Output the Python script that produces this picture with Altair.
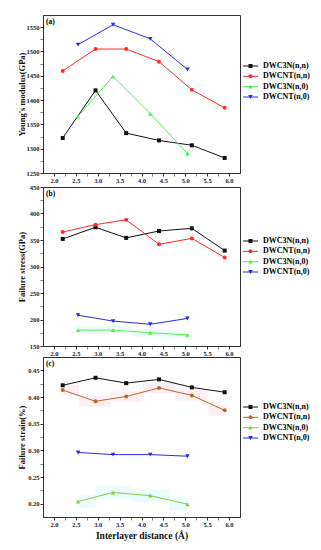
import altair as alt
import pandas as pd

FONT = "Liberation Serif"

series = ["DWC3N(n,n)", "DWCNT(n,n)", "DWC3N(n,0)", "DWCNT(n,0)"]
x_nn = [2.2, 2.95, 3.65, 4.4, 5.15, 5.9]
x_n0 = [2.55, 3.35, 4.2, 5.05]

# (a) Young's modulus (GPa)
young_c3n_nn = [1322, 1420, 1332, 1317, 1307, 1281]
young_cnt_nn = [1460, 1505, 1505, 1479, 1421, 1384]
young_c3n_n0 = [1366, 1449, 1372, 1290]
young_cnt_n0 = [1514, 1555, 1526, 1463]

# (b) Failure stress (GPa)
stress_c3n_nn = [352, 374, 354, 367, 372, 330]
stress_cnt_nn = [365, 379, 388, 342, 353, 317]
stress_c3n_n0 = [180, 180, 175, 171]
stress_cnt_n0 = [208, 197, 191, 202]

# (c) Failure strain (%)
strain_c3n_nn = [0.422, 0.436, 0.426, 0.433, 0.418, 0.409]
strain_cnt_nn = [0.413, 0.392, 0.401, 0.417, 0.403, 0.375]
strain_c3n_n0 = [0.204, 0.221, 0.215, 0.199]
strain_cnt_n0 = [0.296, 0.292, 0.292, 0.289]

# faint bands (half widths) seen behind some curves
band_b_c3n_n0 = 7
band_c_cnt_nn = 0.010
band_c_c3n_n0 = 0.012

x_ticks = [2.0, 2.25, 2.5, 2.75, 3.0, 3.25, 3.5, 3.75, 4.0, 4.25, 4.5,
           4.75, 5.0, 5.25, 5.5, 5.75, 6.0]
y_ticks_a = [1250, 1275, 1300, 1325, 1350, 1375, 1400, 1425, 1450, 1475, 1500,
             1525, 1550]
y_ticks_b = [150, 175, 200, 225, 250, 275, 300, 325, 350, 375, 400, 425, 450]
y_ticks_c = [0.2, 0.225, 0.25, 0.275, 0.3, 0.325, 0.35, 0.375, 0.4,
             0.425, 0.45]

marker_shapes = ["square", "circle", "triangle-up", "triangle-down"]


def major_test(step):
    return f"abs(datum.value/{step} - round(datum.value/{step})) < 0.001"


def marker_size(shp):
    return 16 if shp in ("square", "circle") else 20


def panel(label, vals, ydomain, yticks, ystep, yfmt, ytitle, colors, bands,
          legend_top, height, show_xtitle):
    rows = []
    for s, xs, ys in zip(series, [x_nn, x_nn, x_n0, x_n0], vals):
        for xv, yv in zip(xs, ys):
            rows.append({"x": xv, "y": yv, "series": s})
    df = pd.DataFrame(rows)

    xscale = alt.Scale(domain=[1.75, 6.25], nice=False, zero=False)
    yscale = alt.Scale(domain=ydomain, nice=False, zero=False)
    cscale = alt.Scale(domain=series, range=colors)

    x_axis = alt.Axis(
        values=x_ticks,
        labelExpr=f"({major_test(0.5)}) ? format(datum.value, '.1f') : ''",
        tickSize=3,
        tickOpacity={"condition": {"test": major_test(0.5), "value": 1}, "value": 0.6},
        labelOverlap=False,
        grid=False,
        title="Interlayer distance (Å)" if show_xtitle else None,
        titleFontSize=9.5,
        titlePadding=3,
    )
    y_axis = alt.Axis(
        values=yticks,
        labelExpr=f"({major_test(ystep)}) ? format(datum.value, '{yfmt}') : ''",
        tickSize=3,
        tickOpacity={"condition": {"test": major_test(ystep), "value": 1}, "value": 0.6},
        labelOverlap=False,
        grid=False,
        title=ytitle,
        titleFontSize=8.5,
        titlePadding=3,
        minExtent=14,
        maxExtent=14,
    )

    X = alt.X("x:Q", scale=xscale, axis=x_axis)
    Y = alt.Y("y:Q", scale=yscale, axis=y_axis)

    layers = []
    for (sname, half, fill) in bands:
        idx = series.index(sname)
        xs = [x_nn, x_nn, x_n0, x_n0][idx]
        bdf = pd.DataFrame({"x": xs,
                            "lo": [v - half for v in vals[idx]],
                            "hi": [v + half for v in vals[idx]]})
        layers.append(
            alt.Chart(bdf).mark_area(color=fill, opacity=0.6, interpolate="step")
            .encode(x=alt.X("x:Q", scale=xscale, axis=x_axis),
                    y=alt.Y("lo:Q", scale=yscale, axis=y_axis),
                    y2="hi:Q")
        )

    base = alt.Chart(df)
    layers.append(
        base.mark_line(strokeWidth=1).encode(
            x=X, y=Y, color=alt.Color("series:N", scale=cscale, legend=None),
            detail="series:N")
    )
    for s, shp in zip(series, marker_shapes):
        layers.append(
            base.transform_filter(alt.datum.series == s)
            .mark_point(filled=True, opacity=1, size=marker_size(shp), shape=shp)
            .encode(x=X, y=Y, color=alt.Color("series:N", scale=cscale, legend=None))
        )
    layers.append(
        alt.Chart(pd.DataFrame({"t": [label]}))
        .mark_text(align="left", baseline="middle", font=FONT, fontWeight="bold",
                   fontSize=7.5, color="black")
        .encode(text="t:N", x=alt.value(3), y=alt.value(7))
    )
    plot = alt.layer(*layers).properties(width=197, height=height)

    # legend column
    ldf = pd.DataFrame({"series": series})
    lbase = alt.Chart(ldf)
    ly = alt.Y("series:N", axis=None,
               scale=alt.Scale(type="point", domain=series,
                               range=[legend_top, legend_top + 31], padding=0))
    lc = alt.Color("series:N", scale=cscale, legend=None)
    llayers = [
        lbase.mark_rule(strokeWidth=1).encode(
            x=alt.value(0), x2=alt.value(15), y=ly, color=lc)
    ]
    for s, shp in zip(series, marker_shapes):
        llayers.append(
            lbase.transform_filter(alt.datum.series == s)
            .mark_point(filled=True, opacity=1, size=marker_size(shp), shape=shp)
            .encode(x=alt.value(7.5), y=ly, color=lc)
        )
    llayers.append(
        lbase.mark_text(align="left", baseline="middle", font=FONT,
                        fontWeight="bold", fontSize=8, color="black")
        .encode(x=alt.value(20), y=ly, text="series:N")
    )
    legend = (alt.layer(*llayers)
              .properties(width=66, height=height,
                          view=alt.ViewBackground(strokeOpacity=0)))
    return alt.hconcat(plot, legend, spacing=1)


pa = panel("(a)", [young_c3n_nn, young_cnt_nn, young_c3n_n0, young_cnt_n0],
           [1250, 1575], y_ticks_a, 50, "d", "Young's modulus(GPa)",
           ["#111111", "#ff2a2a", "#55ee55", "#2a2aee"], [], 51, 158, False)
pb = panel("(b)", [stress_c3n_nn, stress_cnt_nn, stress_c3n_n0, stress_cnt_n0],
           [150, 450], y_ticks_b, 50, "d", "Failure stress(GPa)",
           ["#111111", "#ff2a2a", "#55ee55", "#2a2add"],
           [("DWC3N(n,0)", band_b_c3n_n0, "#dcfafa")], 54, 159, False)
pc = panel("(c)", [strain_c3n_nn, strain_cnt_nn, strain_c3n_n0, strain_cnt_n0],
           [0.175, 0.475], y_ticks_c, 0.05, ".2f", "Failure strain(%)",
           ["#111111", "#b5692a", "#88cc44", "#2a2aee"],
           [("DWCNT(n,n)", band_c_cnt_nn, "#fde4ee"),
            ("DWC3N(n,0)", band_c_c3n_n0, "#dcfafa")], 50, 160, True)

chart = (
    alt.vconcat(pa, pb, pc, spacing=-1)
    .resolve_scale(color="independent")
    .properties(padding={"left": 8, "top": 6, "right": 0, "bottom": 2})
    .configure_view(stroke="#333333", strokeWidth=1)
    .configure_axis(
        labelFont=FONT, labelFontSize=6.5, labelFontWeight="bold", labelColor="#222",
        titleFont=FONT, titleFontWeight="bold", titleColor="#111",
        domainColor="#333333", tickColor="#333333", labelPadding=1,
    )
)

chart.save("out.html", embed_options={"renderer": "svg", "actions": False})
